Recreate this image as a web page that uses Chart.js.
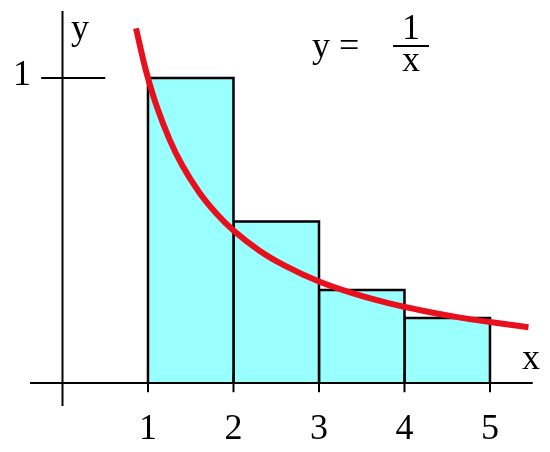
<!DOCTYPE html>
<html>
<head>
<meta charset="utf-8">
<script src="https://cdn.jsdelivr.net/npm/chart.js@4"></script>
<style>body{margin:0;background:#fff}#wrap{width:550px;height:452px}</style>
</head>
<body>
<div id="wrap"><canvas id="c"></canvas></div>
<script>
// data
const rectLefts = [1, 2, 3, 4];
const rectHeights = [1, 0.53, 0.305, 0.213];
const curveX = [0.86, 0.95, 1, 1.1, 1.25, 1.4, 1.6, 1.8, 2, 2.3, 2.6, 3, 3.4, 3.8, 4.2, 4.6, 5, 5.45];
const curveY = [1.163, 1.053, 1, 0.909, 0.8, 0.714, 0.625, 0.556, 0.5, 0.435, 0.385, 0.333, 0.294, 0.263, 0.238, 0.217, 0.2, 0.183];
const xTickLabels = ["1", "2", "3", "4", "5"];

const black = "#000";
const datasets = [];

rectLefts.forEach((x0, i) => {
  const h = rectHeights[i];
  datasets.push({
    data: [{x: x0, y: 0}, {x: x0, y: h}, {x: x0 + 1, y: h}, {x: x0 + 1, y: 0}],
    showLine: true, fill: 'origin', backgroundColor: '#99ffff',
    borderColor: black, borderWidth: 2.5, pointRadius: 0, tension: 0, order: 2
  });
});

// axes
function seg(a, b, w) {
  datasets.push({data: [a, b], showLine: true, borderColor: black, borderWidth: w || 2, pointRadius: 0, fill: false, order: 1});
}
seg({x: -0.38, y: 0}, {x: 5.5, y: 0});
seg({x: 0, y: -0.075}, {x: 0, y: 1.22});
seg({x: -0.25, y: 1}, {x: 0.5, y: 1});
xTickLabels.forEach((t, i) => seg({x: i + 1, y: -0.03}, {x: i + 1, y: 0.03}));

datasets.push({
  data: curveX.map((x, i) => ({x, y: curveY[i]})),
  showLine: true, borderColor: '#e8101c', borderWidth: 6, pointRadius: 0,
  cubicInterpolationMode: 'monotone', fill: false, order: 0
});

const labels = {
  id: 'labels',
  afterDraw(chart) {
    const {ctx, scales: {x, y}} = chart;
    ctx.save();
    ctx.fillStyle = black;
    ctx.font = '36px "Liberation Serif"';
    ctx.textAlign = 'center';
    ctx.textBaseline = 'middle';
    xTickLabels.forEach((t, i) => ctx.fillText(t, x.getPixelForValue(i + 1), 430));
    ctx.fillText('1', 22, 76);
    ctx.fillText('y', 80, 30);
    ctx.fillText('x', 531, 360);
    ctx.textAlign = 'left';
    ctx.fillText('y =', 312, 48);
    ctx.textAlign = 'center';
    ctx.fillText('1', 411, 30);
    ctx.fillText('x', 411, 62);
    ctx.fillRect(393, 45, 36, 2);
    ctx.restore();
  }
};

new Chart(document.getElementById('c'), {
  type: 'scatter',
  data: {datasets},
  options: {
    responsive: true, maintainAspectRatio: false, animation: false,
    layout: {padding: 0},
    plugins: {legend: {display: false}, tooltip: {enabled: false}},
    scales: {
      x: {type: 'linear', display: false, min: -0.731, max: 5.702},
      y: {type: 'linear', display: false, min: -0.226, max: 1.256}
    }
  },
  plugins: [labels]
});
</script>
</body>
</html>
